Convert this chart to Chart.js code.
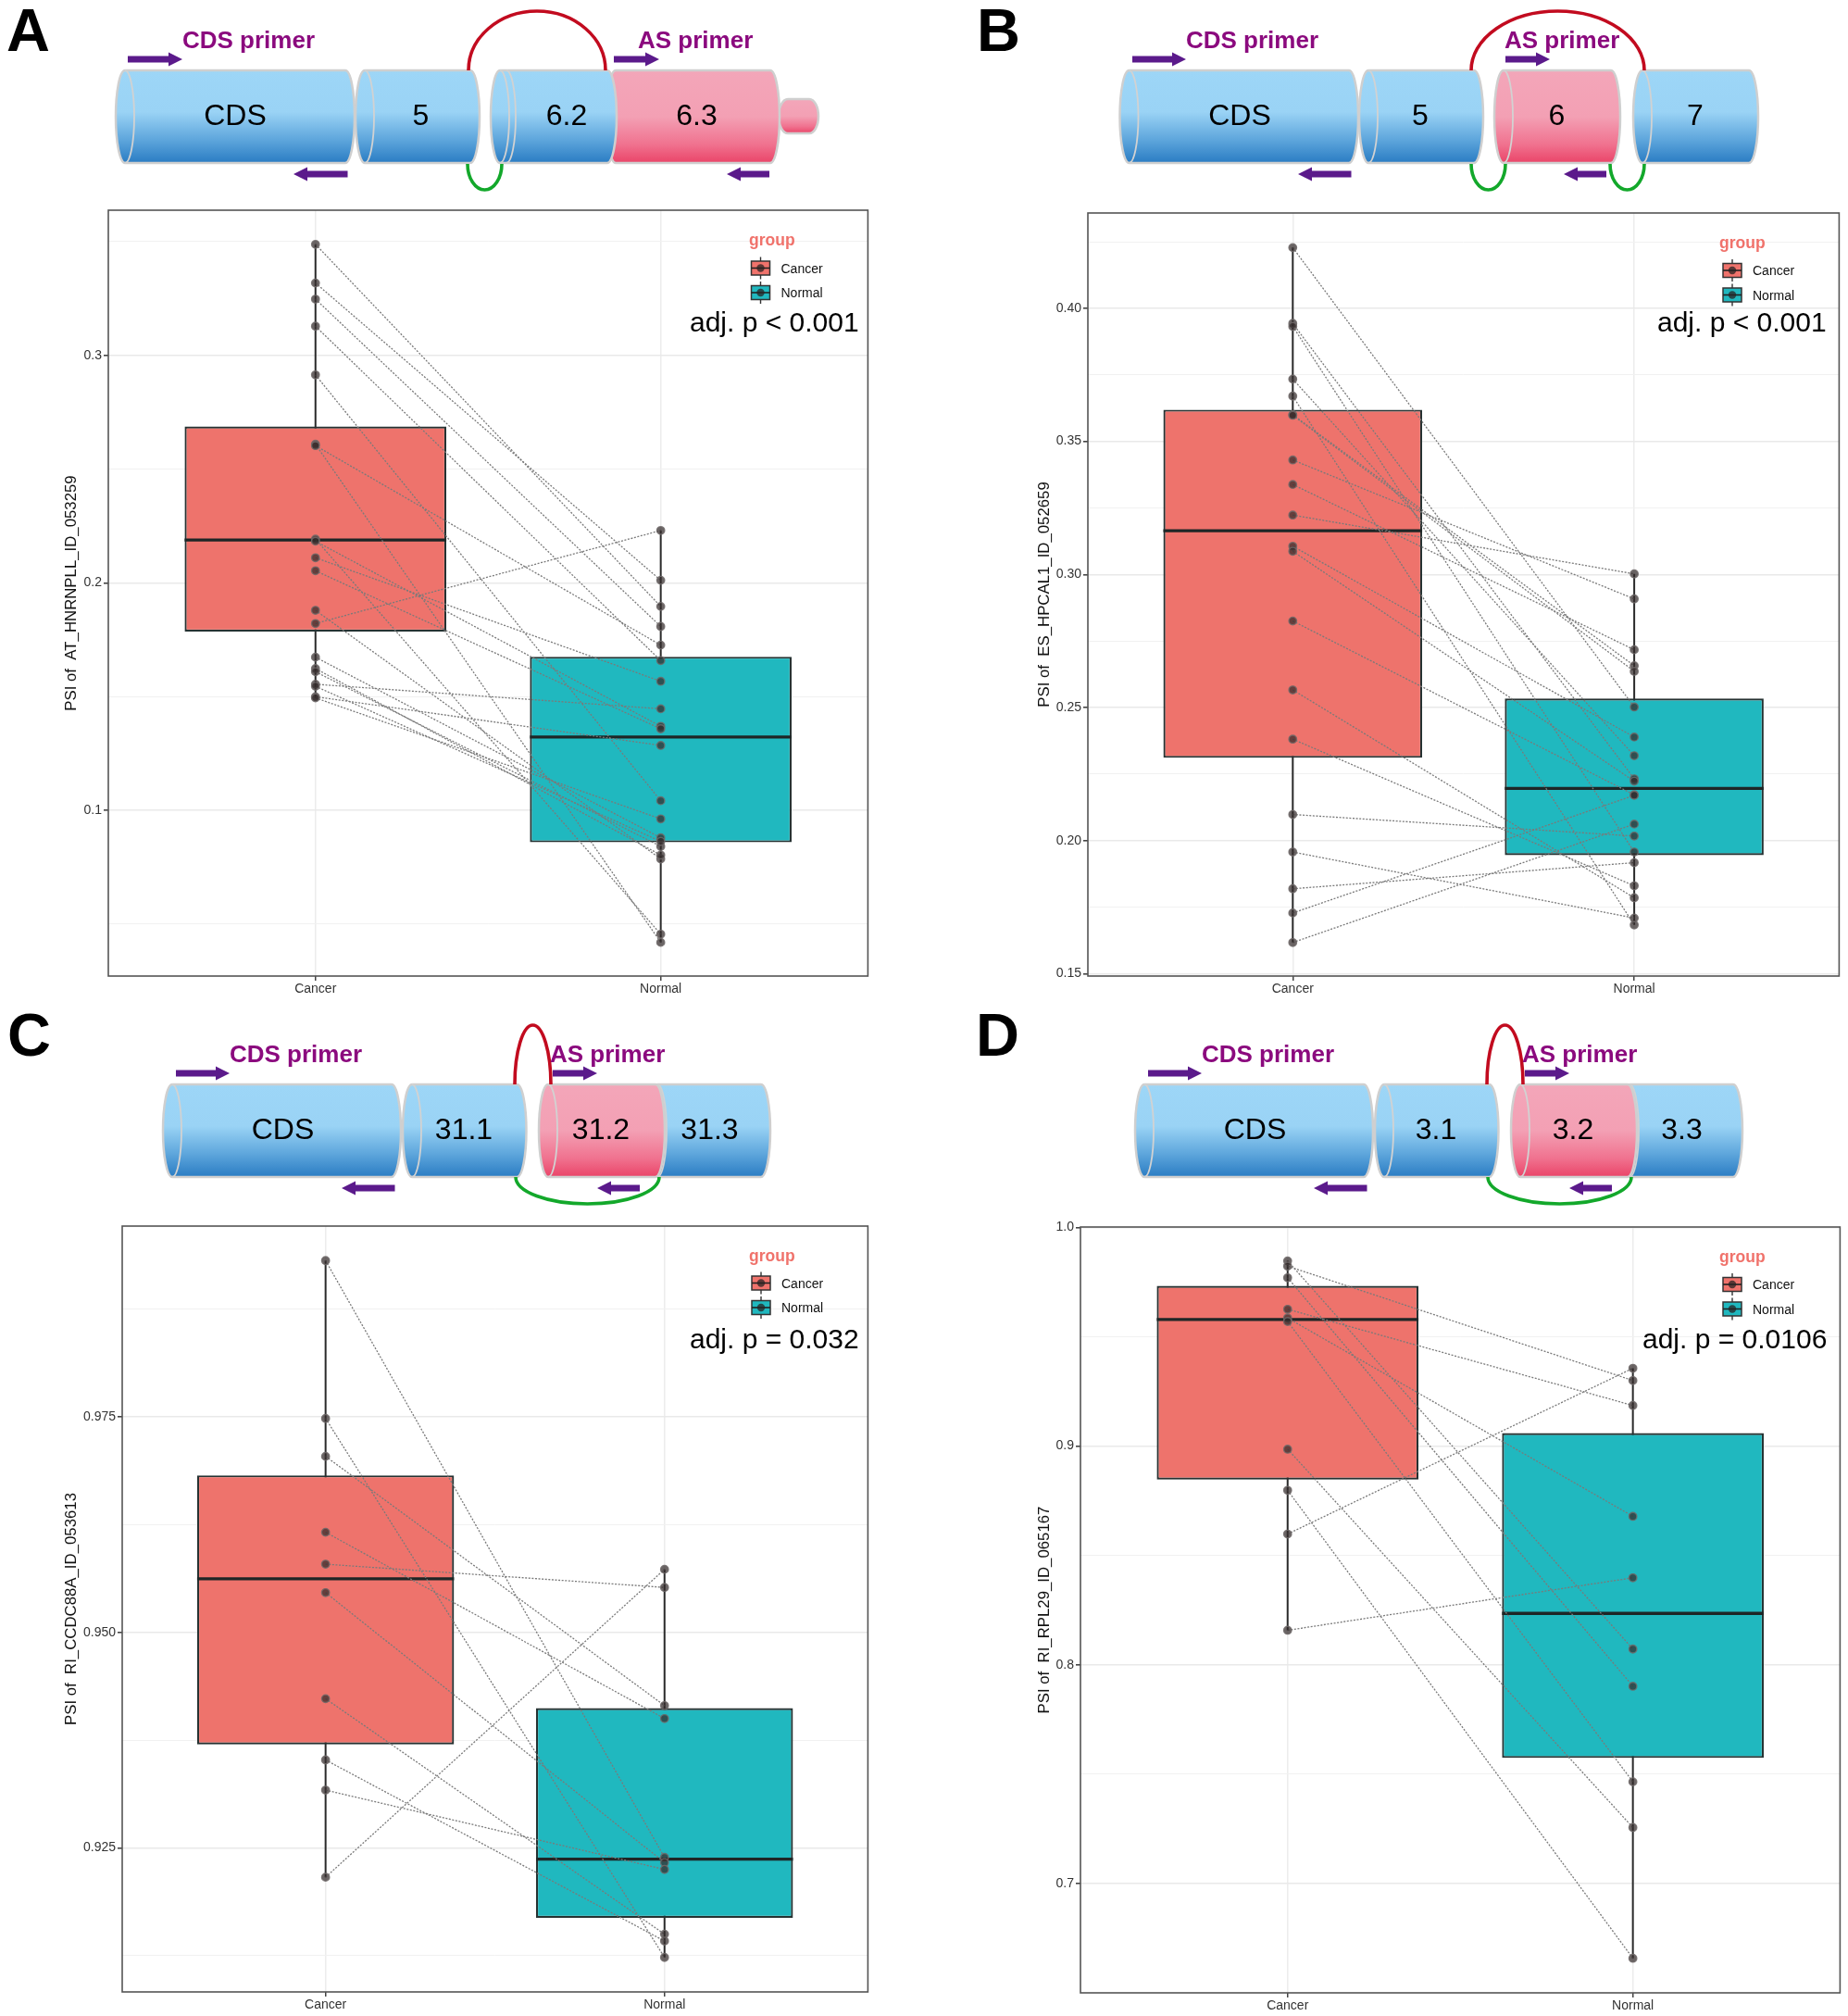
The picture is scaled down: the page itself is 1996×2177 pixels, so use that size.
<!DOCTYPE html>
<html><head><meta charset="utf-8"><title>PSI panels</title>
<script src="https://cdn.jsdelivr.net/npm/chart.js@4"></script>
<style>
html,body{margin:0;padding:0;background:#fff}
#page{position:relative;width:1996px;height:2177px;overflow:hidden;background:#fff}
canvas{position:absolute}
#over{position:absolute;left:0;top:0;pointer-events:none}
#over text{font-family:"Liberation Sans",Arial,sans-serif}
</style></head><body><div id="page"><svg id="over" width="1996" height="2177" viewBox="0 0 1996 2177"></svg></div>
<script>
const categories = ["Cancer","Normal"];

// Panel A
const cancerA = [.3488,.3318,.3247,.3128,.2914,.2609,.2603,.2192,.2183,.2110,.2053,.1879,.1821,.1673,.1623,.1609,.1554,.1545,.1499,.1494];
const normalA = [.1896,.2011,.1808,.1658,.1042,.0419,.1726,.0455,.1369,.1567,.1358,.0786,.2230,.0879,.0803,.0841,.1446,.0863,.1285,.0962];
const q1A = [.1786,.0859], medianA = [.2188,.1322], q3A = [.2687,.1675];
const majorA = [.1,.2,.3], minorA = [.05,.15,.25,.35];
// Panel B
const cancerB = [.4228,.3943,.3932,.3734,.3670,.3600,.3598,.3430,.3338,.3223,.3106,.3087,.2825,.2566,.2381,.2098,.1957,.1819,.1728,.1617];
const normalB = [.2502,.2232,.1957,.2319,.1683,.2657,.2636,.2908,.2717,.3002,.2389,.2223,.2172,.1785,.1830,.2017,.1709,.1917,.2170,.2062];
const q1B = [.2311,.1945], medianB = [.3164,.2196], q3B = [.3619,.2534];
const majorB = [.15,.20,.25,.30,.35,.40], minorB = [.175,.225,.275,.325,.375,.425];
// Panel C
const cancerC = [.9931,.9748,.9704,.9616,.9579,.9546,.9423,.9352,.9317,.9216];
const normalC = [.9239,.9123,.9415,.9400,.9552,.9233,.9150,.9142,.9225,.9573];
const q1C = [.9370,.9169], medianC = [.9562,.9237], q3C = [.9682,.9412];
const majorC = [.925,.950,.975], minorC = [.9125,.9375,.9625,.9875];
// Panel D
const cancerD = [.9847,.9823,.9770,.9626,.9586,.9570,.8986,.8798,.8598,.8158];
const normalD = [.8072,.9300,.7902,.9186,.8679,.7465,.7256,.6658,.9356,.8398];
const q1D = [.8847,.7574], medianD = [.9579,.8235], q3D = [.9733,.9060];
const majorD = [.7,.8,.9,1.0], minorD = [.75,.85,.95];

const FONT = '"Liberation Sans", Arial, sans-serif';
const page = document.getElementById('page');

const framePlugin = {id:'frame', afterDatasetsDraw(c){
  const a=c.chartArea, x=c.ctx; x.save(); x.strokeStyle='#555'; x.lineWidth=1.6;
  x.strokeRect(a.left,a.top,a.right-a.left,a.bottom-a.top); x.restore();
}};

function panel(o){
  const titleSize=16.8, padTop=12, padRight=4, xH=24;
  const left=Math.round(o.titleX-titleSize*.6), yW=o.L-left;
  const cv=document.createElement('canvas');
  const w=o.R-left+padRight, h=o.B-o.T+padTop+xH;
  cv.width=w; cv.height=h; cv.style.width=w+'px'; cv.style.height=h+'px';
  cv.style.left=left+'px'; cv.style.top=(o.T-padTop)+'px';
  page.insertBefore(cv,page.firstChild);
  const ds=[];
  ds.push({type:'line',order:5,data:[{x:0,y:Math.min(...o.cancer)},{x:0,y:Math.max(...o.cancer)}],borderColor:'#2b2b2b',borderWidth:2,pointRadius:0});
  ds.push({type:'line',order:5,data:[{x:1,y:Math.min(...o.normal)},{x:1,y:Math.max(...o.normal)}],borderColor:'#2b2b2b',borderWidth:2,pointRadius:0});
  ds.push({type:'bar',order:4,data:[0,1].map(i=>({x:i,y:[o.q1[i],o.q3[i]]})),
    backgroundColor:['#EE736C','#20B8BF'],borderColor:'#263232',borderWidth:2.2,borderSkipped:false,
    categoryPercentage:1,barPercentage:.758});
  [0,1].forEach(i=>ds.push({type:'line',order:3,data:[{x:i-.379,y:o.median[i]},{x:i+.379,y:o.median[i]}],borderColor:'#1e2626',borderWidth:3.4,pointRadius:0}));
  o.cancer.forEach((v,i)=>ds.push({type:'line',order:2,data:[{x:0,y:v},{x:1,y:o.normal[i]}],borderColor:'#7a7a7a',borderWidth:1.3,borderDash:[2,1.6],pointRadius:0}));
  ds.push({type:'scatter',order:1,data:o.cancer.map(v=>({x:0,y:v})).concat(o.normal.map(v=>({x:1,y:v}))),
    backgroundColor:'rgba(50,42,42,.72)',borderColor:'rgba(110,105,105,.85)',borderWidth:1.4,pointRadius:4.2});
  const isMajor=v=>o.major.some(m=>Math.abs(m-v)<1e-6);
  new Chart(cv,{type:'bar',plugins:[framePlugin],data:{datasets:ds},options:{
    responsive:false,animation:false,devicePixelRatio:1,
    layout:{padding:{top:padTop,right:padRight,left:0,bottom:0}},
    plugins:{legend:{display:false},tooltip:{enabled:false}},
    scales:{
      x:{type:'linear',offset:false,min:-.6,max:1.6,
        afterBuildTicks(s){s.ticks=[{value:0},{value:1}]},
        afterFit(s){s.height=xH},
        border:{display:false},
        grid:{offset:false,color:'#ececec',lineWidth:1.5,tickColor:'#444',tickLength:5},
        ticks:{autoSkip:false,maxRotation:0,padding:1,color:'#333',font:{family:FONT,size:14},callback:v=>categories[v]}},
      y:{type:'linear',min:o.min,max:o.max,
        afterBuildTicks(s){s.ticks=o.major.concat(o.minor).sort((a,b)=>a-b).map(v=>({value:v}))},
        afterFit(s){s.width=yW},
        border:{display:false},
        title:{display:true,text:o.title,color:'#111',padding:0,font:{family:FONT,size:titleSize}},
        grid:{color:c=>isMajor(c.tick.value)?'#e9e9e9':'#f1f1f1',
              lineWidth:c=>isMajor(c.tick.value)?1.6:1,
              tickColor:c=>isMajor(c.tick.value)?'#444':'rgba(0,0,0,0)',tickLength:5},
        ticks:{autoSkip:false,padding:2,color:'#333',font:{family:FONT,size:14},
          callback:v=>isMajor(v)?v.toFixed(o.dec):''}}
    }}});
}

panel({L:117,R:939,T:227,B:1054,titleX:77.5,min:.0271,max:.3638,dec:1,cancer:cancerA,normal:normalA,q1:q1A,median:medianA,q3:q3A,major:majorA,minor:minorA,title:'PSI of  AT_HNRNPLL_ID_053259'});
panel({L:1175,R:1988,T:230,B:1054,titleX:1128.5,min:.1491,max:.4358,dec:2,cancer:cancerB,normal:normalB,q1:q1B,median:medianB,q3:q3B,major:majorB,minor:minorB,title:'PSI of  ES_HPCAL1_ID_052659'});
panel({L:132,R:939,T:1324,B:2151,titleX:77.5,min:.9083,max:.9971,dec:3,cancer:cancerC,normal:normalC,q1:q1C,median:medianC,q3:q3C,major:majorC,minor:minorC,title:'PSI of  RI_CCDC88A_ID_053613'});
panel({L:1167,R:1989,T:1325,B:2152,titleX:1128.5,min:.65,max:1.0002,dec:1,cancer:cancerD,normal:normalD,q1:q1D,median:medianD,q3:q3D,major:majorD,minor:minorD,title:'PSI of  RI_RPL29_ID_065167'});

// Exon diagrams and annotations
let s=`<defs>
<linearGradient id="gb" x1="0" y1="0" x2="0" y2="1"><stop offset="0" stop-color="#9dd6f7"/><stop offset=".45" stop-color="#9ad3f5"/><stop offset=".75" stop-color="#5ea6dc"/><stop offset="1" stop-color="#2a7cc3"/></linearGradient>
<linearGradient id="gp" x1="0" y1="0" x2="0" y2="1"><stop offset="0" stop-color="#f3a6b9"/><stop offset=".5" stop-color="#f3a0b4"/><stop offset=".8" stop-color="#f0728f"/><stop offset="1" stop-color="#ea4468"/></linearGradient>
</defs>`;
function cyl(x0,x1,top,bot,fill,extra,noInner){
  const b=10,r=(bot-top)/2;
  s+=`<path d="M${x0+b} ${top}L${x1-b} ${top}A${b} ${r} 0 0 1 ${x1-b} ${bot}L${x0+b} ${bot}A${b} ${r} 0 0 1 ${x0+b} ${top}Z" fill="url(#${fill})" stroke="#cfcfcf" stroke-width="2.5"/>`;
  if(!noInner) s+=`<path d="M${x0+b} ${top}A${b} ${r} 0 0 1 ${x0+b} ${bot}" fill="none" stroke="#d2d2d2" stroke-width="1.8"/>`;
  if(extra) s+=`<path d="M${x0+b+extra} ${top}A${b} ${r} 0 0 1 ${x0+b+extra} ${bot}" fill="none" stroke="#d2d2d2" stroke-width="1.8"/>`;
}
function arrow(x0,x1,y,dir){
  const hl=15,ht=7,hh=14;
  const a=dir>0?`M${x0} ${y-ht/2}L${x1-hl} ${y-ht/2}L${x1-hl} ${y-hh/2-ht/2+3}L${x1} ${y}L${x1-hl} ${y+hh/2+ht/2-3}L${x1-hl} ${y+ht/2}L${x0} ${y+ht/2}Z`
               :`M${x1} ${y-ht/2}L${x0+hl} ${y-ht/2}L${x0+hl} ${y-hh/2-ht/2+3}L${x0} ${y}L${x0+hl} ${y+hh/2+ht/2-3}L${x0+hl} ${y+ht/2}L${x1} ${y+ht/2}Z`;
  s+=`<path d="${a}" fill="#5b1a8b"/>`;
}
function arc(x0,x1,y,ry,up,col){
  const rx=(x1-x0)/2;
  s+=`<path d="M${x0} ${y}A${rx} ${ry} 0 0 ${up?1:0} ${x1} ${y}" fill="none" stroke="${col}" stroke-width="3.6"/>`;
}
const RED='#c20b1f',GREEN='#13a82b';
function txt(x,y,t,size,opt={}){
  s+=`<text x="${x}" y="${y}" font-size="${size}" text-anchor="${opt.a||'middle'}" fill="${opt.c||'#000'}" font-weight="${opt.w||'normal'}" xml:space="preserve">${t}</text>`;
}
function primer(x,y,t){txt(x,y,t,26,{a:'start',c:'#8b0a7e',w:'bold'})}
function letter(x,y,t){txt(x,y,t,65,{a:'start',w:'bold'})}
function legend(gx,gy,kx,cy,ny,pText,px,py){
  txt(gx,gy+6,'group',17.5,{a:'start',c:'#f0726b',w:'bold'});
  [[cy,'#f0736c','Cancer'],[ny,'#20b8bf','Normal']].forEach(([y,f,t])=>{
    s+=`<line x1="${kx+10}" y1="${y-12}" x2="${kx+10}" y2="${y+12}" stroke="#333" stroke-width="1.4"/>`;
    s+=`<rect x="${kx}" y="${y-7.5}" width="20" height="15" fill="${f}" stroke="#333" stroke-width="1.5"/>`;
    s+=`<line x1="${kx}" y1="${y}" x2="${kx+20}" y2="${y}" stroke="#222" stroke-width="1.6"/>`;
    s+=`<circle cx="${kx+10}" cy="${y}" r="4.2" fill="rgba(40,35,35,.75)"/>`;
    txt(kx+32,y+5,t,14,{a:'start',c:'#111'});
  });
  txt(px,py,pText,30,{a:'start'});
}
// A
letter(7,55,'A');
cyl(841,884,107,144,'gp',0,true);
cyl(655,842,76,176,'gp',0,true);
cyl(125,383,76,176,'gb');
cyl(384,518,76,176,'gb');
cyl(530,666,76,176,'gb',7);
arc(506,654,76,64,true,RED); arc(505,542,177,28,false,GREEN);
['CDS','5','6.2','6.3'].forEach((t,i)=>txt([254,454.5,612,752.5][i],134.5,t,32));
arrow(138,197,64,1);arrow(663,712,64,1);arrow(317,375.5,188,-1);arrow(785,831,188,-1);
primer(197,52,'CDS primer');primer(689,52,'AS primer');
legend(809,259,811.5,289.5,316,'adj. p &lt; 0.001',745,358);
// B
letter(1055,55,'B');
cyl(1209.5,1467,76,176,'gb');cyl(1468,1602,76,176,'gb');cyl(1614,1750,76,176,'gp');cyl(1764,1899,76,176,'gb');
arc(1589,1776,76,64,true,RED);arc(1589,1626,177,28,false,GREEN);arc(1739,1776,177,28,false,GREEN);
['CDS','5','6','7'].forEach((t,i)=>txt([1339,1534,1681.5,1831][i],134.5,t,32));
arrow(1223,1281,64,1);arrow(1626,1674,64,1);arrow(1402,1459.5,188,-1);arrow(1689,1735,188,-1);
primer(1281,52,'CDS primer');primer(1625,52,'AS primer');
legend(1857,262,1861,292,318.5,'adj. p &lt; 0.001',1790,358);
// C and D share a layout
[[0,'C',['CDS','31.1','31.2','31.3'],'adj. p = 0.032',745,8],[1050,'D',['CDS','3.1','3.2','3.3'],'adj. p = 0.0106',1774,1054]].forEach(([d,L,labs,p,px,lx])=>{
  letter(lx,1140,L);
  cyl(176+d,433+d,1171,1271,'gb');cyl(435+d,568.5+d,1171,1271,'gb');
  cyl(700+d,832+d,1171,1271,'gb');cyl(582+d,718+d,1171,1271,'gp');
  arc(556+d,595+d,1171,64,true,RED);arc(557+d,712+d,1271,29,false,GREEN);
  labs.forEach((t,i)=>txt([305.5,501,649,766.5][i]+d,1229.5,t,32));
  arrow(190+d,248+d,1159,1);arrow(597+d,645+d,1159,1);arrow(369+d,426.5+d,1283,-1);arrow(645+d,691+d,1283,-1);
  primer(248+d,1146.5,'CDS primer');primer(594+d,1146.5,'AS primer');
  if(d===0) legend(809,1355.5,812,1385.5,1412,p,px,1456);
  else legend(1857,1356.5,1861,1387,1413.5,p,px,1456);
});
document.getElementById('over').innerHTML=s;
</script></body></html>
